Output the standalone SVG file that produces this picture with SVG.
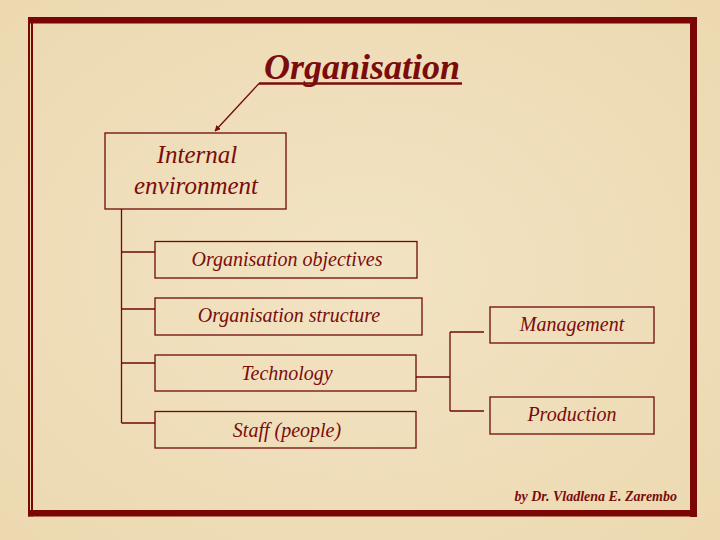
<svg xmlns="http://www.w3.org/2000/svg" width="720" height="540" viewBox="0 0 720 540">
<defs>
<radialGradient id="bg" cx="50%" cy="50%" r="70%">
<stop offset="0" stop-color="#f2e3c3"/>
<stop offset="1" stop-color="#ecd9b0"/>
</radialGradient>
<marker id="ah" viewBox="0 0 10 10" refX="9" refY="5" markerWidth="6" markerHeight="6" orient="auto" markerUnits="userSpaceOnUse">
<path d="M0,0 L10,5 L0,10 z" fill="#7a0c0c"/>
</marker>
<style>
.box{fill:none;stroke:#6e0a0a;stroke-width:1.3}
.t{font-family:"Liberation Serif",serif;font-style:italic;fill:#7a0c0c;text-anchor:middle}
.c{fill:none;stroke:#6e0a0a;stroke-width:1.3}
.f{fill:#7a0606}
</style>
</defs>
<rect width="720" height="540" fill="url(#bg)"/>
<g id="frame">
<rect class="f" x="28" y="17" width="669" height="6.5"/>
<rect class="f" x="690" y="17" width="7" height="500"/>
<rect class="f" x="28" y="510" width="669" height="6.5"/>
<rect class="f" x="28" y="17" width="2" height="499.5"/>
<rect class="f" x="31" y="17" width="2" height="499.5"/>
</g>
<g id="title">
<text class="t" x="362" y="79" font-size="36" font-weight="bold">Organisation</text>
<line x1="259" y1="83.5" x2="462" y2="83.5" stroke="#7a0c0c" stroke-width="2.5"/>
</g>
<g id="connectors">
<line class="c" x1="259" y1="83.5" x2="215" y2="131" marker-end="url(#ah)"/>
<path class="c" d="M121.5,209 V423 M121.5,252 H155 M121.5,309 H155 M121.5,363 H155 M121.5,423 H155"/>
<path class="c" d="M416,377 H450 M450,332 V411 M450,332 H484 M450,411 H484"/>
</g>
<g id="internal">
<rect class="box" x="105" y="133" width="181" height="76"/>
<text class="t" x="197" y="163" font-size="25">Internal</text>
<text class="t" x="196" y="194" font-size="25">environment</text>
</g>
<g id="objectives">
<rect class="box" x="155" y="241.5" width="262" height="36.5"/>
<text class="t" x="287" y="266" font-size="20">Organisation objectives</text>
</g>
<g id="structure">
<rect class="box" x="155" y="298" width="267" height="37"/>
<text class="t" x="289" y="322" font-size="20">Organisation structure</text>
</g>
<g id="technology">
<rect class="box" x="155" y="355" width="261" height="36"/>
<text class="t" x="287" y="380" font-size="20">Technology</text>
</g>
<g id="staff">
<rect class="box" x="155" y="411.5" width="261" height="36.5"/>
<text class="t" x="287" y="437" font-size="20">Staff (people)</text>
</g>
<g id="management">
<rect class="box" x="490" y="307" width="164" height="36"/>
<text class="t" x="572" y="331" font-size="20">Management</text>
</g>
<g id="production">
<rect class="box" x="490" y="397" width="164" height="37"/>
<text class="t" x="572" y="421" font-size="20">Production</text>
</g>
<g id="credit">
<text class="t" x="677" y="501" font-size="14" font-weight="bold" style="text-anchor:end">by Dr. Vladlena E. Zarembo</text>
</g>
</svg>
